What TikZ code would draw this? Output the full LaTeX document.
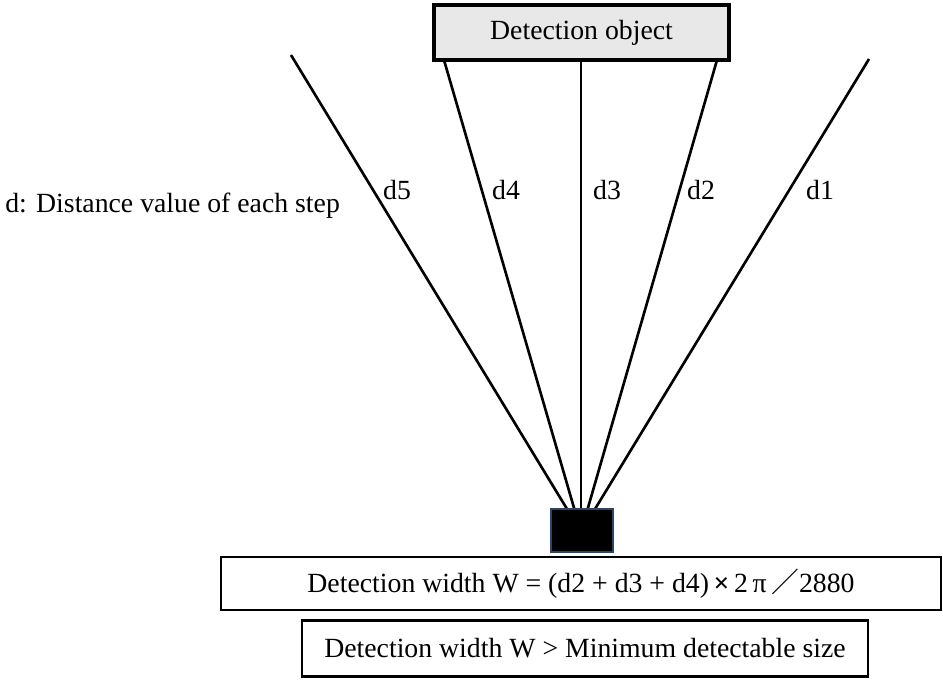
\documentclass[tikz,border=0pt]{standalone}
\usepackage{fontspec}
\setmainfont{Liberation Serif}
\newfontfamily\cjk{Noto Sans CJK JP}
\usetikzlibrary{positioning, calc}

\definecolor{objgray}{RGB}{232,232,232}
\definecolor{sensorblue}{RGB}{45,70,100}

\tikzset{
	textbox/.style={draw, line width=1.5pt, inner sep=0pt, align=center},
	beam/.style={line width=1.5pt},
	dlabel/.style={inner sep=0pt}
}

\begin{document}
\begin{tikzpicture}[x=0.02cm, y=-0.02cm, font=\fontsize{15.8}{19}\selectfont]
			\useasboundingbox (0, 0) rectangle (943, 680);
			% object on top
			\node[textbox, line width=1.8pt, fill=objgray, minimum width=5.9cm, minimum height=1.1cm] (object) at (581.5, 32.5) {Detection object};
			% sensor and the five steps
			\coordinate (apex) at (581, 532);
			\coordinate (top5) at (291, 55);
			\coordinate (top1) at (869, 59);
			\draw[beam] (apex) -- (top5);
			\draw[beam] (apex) -- ([xshift=0.24cm]object.south west);
			\draw[beam] (apex) -- (object.south -| apex);
			\draw[beam] (apex) -- ([xshift=-0.28cm]object.south east);
			\draw[beam] (apex) -- (top1);
			\node[draw=sensorblue, line width=1.1pt, fill=black, minimum width=1.24cm, minimum height=0.86cm, inner sep=0pt] (sensor) at (582, 530.5) {};
			\node[dlabel] (d5) at (397, 190) {d5};
			\node[dlabel] (d4) at (506, 190) {d4};
			\node[dlabel] (d3) at (607, 190) {d3};
			\node[dlabel] (d2) at (701, 190) {d2};
			\node[dlabel] (d1) at (820, 190) {d1};
			\node[dlabel, anchor=west] (legend) at (5, 206) {d: Distance value of each step};
			% formulas
			\node[textbox, minimum width=14.4cm, minimum height=1.06cm] (width) at (581, 583.5) {Detection width W = (d2 + d3 + d4)\,\textbf{×}\,2\,π\,{\cjk ／}2880};
			\node[textbox, minimum width=11.32cm, minimum height=1.12cm] (check) at (585, 648.5) {Detection width W \textgreater{} Minimum detectable size};
		\end{tikzpicture}
\end{document}
